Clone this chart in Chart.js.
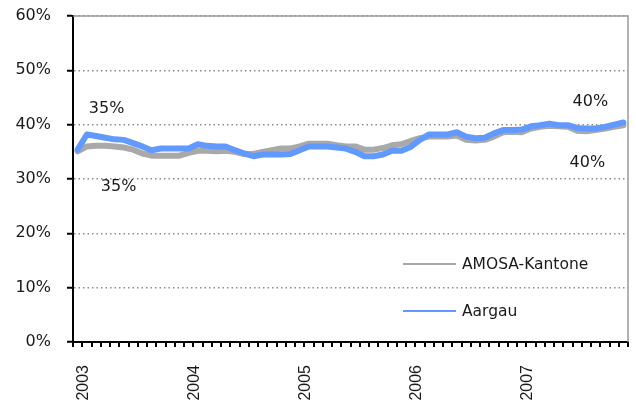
<!DOCTYPE html>
<html>
<head>
<meta charset="utf-8">
<script src="https://cdn.jsdelivr.net/npm/chart.js@4/dist/chart.umd.min.js"></script>
<style>
  html, body { margin: 0; padding: 0; background: #fff; }
  #wrap { width: 636px; height: 407px; position: relative; }
</style>
</head>
<body>
<div id="wrap"><canvas id="chart"></canvas></div>
<script>
  const years = ["2003", "2004", "2005", "2006", "2007"];
  const months = years.flatMap((y) =>
    ["01", "02", "03", "04", "05", "06", "07", "08", "09", "10", "11", "12"].map((m) => y + "-" + m)
  );

  const aargau = [
    35.4, 38.2, 37.9, 37.6, 37.3, 37.2, 36.6, 36.0, 35.3, 35.6, 35.6, 35.6,
    35.6, 36.4, 36.1, 36.0, 36.0, 35.3, 34.7, 34.2, 34.5, 34.5, 34.5, 34.6,
    35.3, 36.0, 36.0, 36.0, 35.8, 35.6, 35.0, 34.2, 34.2, 34.5, 35.2, 35.2,
    35.9, 37.2, 38.2, 38.2, 38.2, 38.6, 37.8, 37.5, 37.6, 38.4, 39.0, 39.0,
    39.1, 39.7, 39.9, 40.2, 39.9, 39.9, 39.4, 39.3, 39.3, 39.6, 40.0, 40.4
  ];
  const amosa = [
    35.1, 36.0, 36.1, 36.1, 36.0, 35.8, 35.4, 34.7, 34.3, 34.3, 34.3, 34.3,
    34.8, 35.2, 35.2, 35.1, 35.2, 35.0, 34.6, 34.6, 35.0, 35.3, 35.6, 35.6,
    36.0, 36.5, 36.5, 36.5, 36.2, 36.0, 36.0, 35.4, 35.4, 35.7, 36.2, 36.4,
    37.0, 37.5, 37.8, 37.8, 37.8, 38.0, 37.2, 37.1, 37.2, 37.8, 38.6, 38.7,
    38.6, 39.3, 39.6, 39.8, 39.7, 39.6, 38.9, 38.8, 39.0, 39.3, 39.6, 39.9
  ];
  const seriesNames = ["AMOSA-Kantone", "Aargau"];
  const yTicks = [0, 10, 20, 30, 40, 50, 60];

  const BLUE = "#6199ff";
  const GRAY = "#a9a9a9";
  const TEXT = "#1a1a1a";
  const LABEL_FONT = "16px 'DejaVu Sans'";
  const LEGEND_FONT = "15.5px 'DejaVu Sans'";

  // first/last value labels, placed like the Excel original
  const valueLabels = {
    id: "valueLabels",
    afterDatasetsDraw(chart) {
      const { ctx, scales } = chart;
      const x = scales.x, y = scales.y;
      const last = months.length - 1;
      const items = [
        { v: aargau[0], i: 0, dx: 29, dy: -41 },
        { v: amosa[0], i: 0, dx: 41, dy: 36 },
        { v: aargau[last], i: last, dx: -33, dy: -21 },
        { v: amosa[last], i: last, dx: -36, dy: 38 }
      ];
      ctx.save();
      ctx.font = LABEL_FONT;
      ctx.fillStyle = TEXT;
      ctx.textAlign = "center";
      ctx.textBaseline = "middle";
      items.forEach((it) => {
        ctx.fillText(Math.round(it.v) + "%", x.getPixelForValue(it.i) + it.dx, y.getPixelForValue(it.v) + it.dy);
      });
      ctx.restore();
    }
  };

  // gray frame on top/right + legend inside the plot
  const frameAndLegend = {
    id: "frameAndLegend",
    afterDraw(chart) {
      const { ctx, chartArea: a } = chart;
      ctx.save();
      ctx.strokeStyle = "#9a9a9a";
      ctx.lineWidth = 1.5;
      ctx.beginPath();
      ctx.moveTo(a.left, a.top);
      ctx.lineTo(a.right, a.top);
      ctx.lineTo(a.right, a.bottom);
      ctx.stroke();

      const entries = [
        { name: seriesNames[0], color: GRAY, y: 264 },
        { name: seriesNames[1], color: BLUE, y: 311 }
      ];
      ctx.font = LEGEND_FONT;
      ctx.fillStyle = TEXT;
      ctx.textBaseline = "middle";
      entries.forEach((e) => {
        ctx.strokeStyle = e.color;
        ctx.lineWidth = 2;
        ctx.beginPath();
        ctx.moveTo(403, e.y);
        ctx.lineTo(456, e.y);
        ctx.stroke();
        ctx.fillText(e.name, 462, e.y + 1);
      });
      ctx.restore();
    }
  };

  new Chart(document.getElementById("chart"), {
    type: "line",
    data: {
      labels: months,
      datasets: [
        {
          label: seriesNames[1],
          data: aargau,
          borderColor: BLUE,
          borderWidth: 6,
          pointRadius: 0,
          tension: 0,
          borderJoinStyle: "round",
          borderCapStyle: "round"
        },
        {
          label: seriesNames[0],
          data: amosa,
          borderColor: GRAY,
          borderWidth: 6,
          pointRadius: 0,
          tension: 0,
          borderJoinStyle: "round",
          borderCapStyle: "round"
        }
      ]
    },
    options: {
      responsive: true,
      maintainAspectRatio: false,
      animation: false,
      devicePixelRatio: 1,
      layout: { padding: { top: 16, right: 8, left: 0, bottom: 0 } },
      plugins: {
        legend: { display: false },
        tooltip: { enabled: false }
      },
      scales: {
        x: {
          offset: true,
          grid: {
            offset: true,
            drawOnChartArea: false,
            drawTicks: true,
            tickLength: 5,
            tickColor: "#000",
            lineWidth: 2
          },
          border: { color: "#000", width: 2 },
          ticks: {
            autoSkip: false,
            maxRotation: 90,
            minRotation: 90,
            labelOffset: 6,
            padding: 18,
            color: TEXT,
            font: { family: "'Liberation Sans', Arial, sans-serif", size: 16 },
            callback(value, idx) {
              const m = months[idx];
              return m.endsWith("-01") ? m.slice(0, 4) : "";
            }
          },
          afterFit(scale) {
            scale.height = 65;
            scale.paddingLeft = 0;
            scale.paddingRight = 0;
          }
        },
        y: {
          min: 0,
          max: 60,
          afterBuildTicks(scale) {
            scale.ticks = yTicks.map((v) => ({ value: v }));
          },
          grid: {
            color: "#8c8c8c",
            lineWidth: 1.5,
            tickLength: 6,
            tickColor: "#000",
            tickWidth: 2,
            tickBorderDash: []
          },
          border: { color: "#000", width: 2, dash: [1.5, 3] },
          ticks: {
            padding: 16,
            color: TEXT,
            font: { family: "'DejaVu Sans'", size: 16 },
            callback(value) {
              return value + "%";
            }
          },
          afterFit(scale) {
            scale.width = 73;
            scale.paddingTop = 0;
            scale.paddingBottom = 0;
          }
        }
      }
    },
    plugins: [valueLabels, frameAndLegend]
  });
</script>
</body>
</html>
